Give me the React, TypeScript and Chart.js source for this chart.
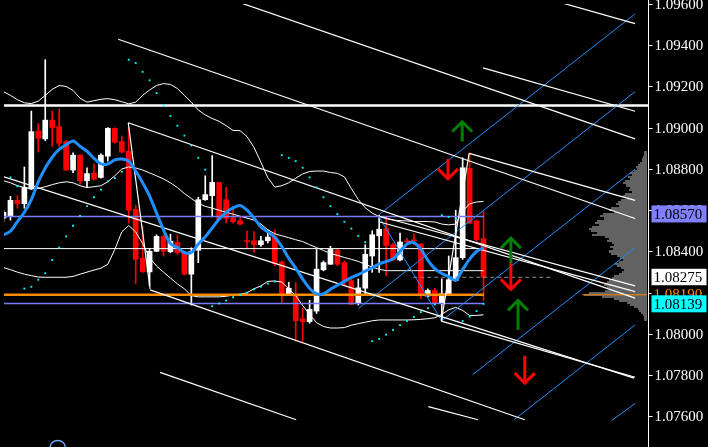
import React, { useEffect, useRef } from "react";
import { Chart, registerables } from "chart.js";

Chart.register(...registerables);

const CANVAS_W = 708;
const CANVAS_H = 447;

// ---- candles (bar index 0..69) ----
const opens = [
  1.08562, 1.08571, 1.08648, 1.08632, 1.08703, 1.08984, 1.08946, 1.09037, 1.09005, 1.08933,
  1.08795, 1.08867, 1.08743, 1.0878, 1.08759, 1.08862, 1.08997, 1.08933, 1.08886, 1.08605,
  1.08367, 1.08301, 1.08401, 1.08473, 1.08399, 1.08444, 1.08394, 1.0829, 1.08406, 1.08651,
  1.08671, 1.08735, 1.08651, 1.08563, 1.08549, 1.08452, 1.08452, 1.08433, 1.08452, 1.08473,
  1.08349, 1.0819, 1.0819, 1.08073, 1.0806, 1.08111, 1.08311, 1.08338, 1.08406, 1.08346,
  1.08259, 1.08151, 1.08222, 1.08378, 1.08476, 1.08511, 1.08433, 1.08359, 1.08452, 1.08457,
  1.08437, 1.08184, 1.08211, 1.08148, 1.08192, 1.08259, 1.0837, 1.08803, 1.08549, 1.08462,
];
const highs = [
  1.086, 1.08667, 1.08671, 1.0881, 1.09081, 1.0902, 1.0933, 1.09081, 1.09092, 1.08938,
  1.08878, 1.0887, 1.08806, 1.08825, 1.08873, 1.09001, 1.09, 1.0896, 1.09, 1.08624,
  1.0852, 1.0841, 1.08481, 1.08481, 1.08484, 1.08481, 1.08401, 1.08418, 1.08663, 1.08767,
  1.08865, 1.08735, 1.08711, 1.08608, 1.08568, 1.085, 1.08497, 1.08473, 1.08505, 1.08505,
  1.08354, 1.08251, 1.08248, 1.08124, 1.08163, 1.0841, 1.08354, 1.08425, 1.0841, 1.08354,
  1.08275, 1.08267, 1.08433, 1.08501, 1.08576, 1.08568, 1.08441, 1.08489, 1.08465, 1.08486,
  1.08437, 1.08219, 1.08222, 1.08267, 1.08378, 1.086, 1.08854, 1.08878, 1.08549, 1.08595,
];
const lows = [
  1.08543, 1.08552, 1.0861, 1.0861, 1.08701, 1.08882, 1.08937, 1.0891, 1.0891, 1.08793,
  1.08782, 1.08727, 1.08711, 1.08746, 1.08756, 1.08838, 1.08925, 1.08878, 1.08537, 1.08243,
  1.08299, 1.08235, 1.08399, 1.08378, 1.08394, 1.08386, 1.08286, 1.0814, 1.08346, 1.08648,
  1.08568, 1.08552, 1.08537, 1.08537, 1.08529, 1.08418, 1.08397, 1.08425, 1.08441, 1.0833,
  1.08148, 1.08187, 1.07965, 1.07965, 1.08052, 1.081, 1.08306, 1.08338, 1.0833, 1.08235,
  1.08144, 1.0814, 1.08187, 1.08299, 1.08299, 1.08282, 1.08354, 1.08354, 1.08433, 1.08433,
  1.08171, 1.0818, 1.08148, 1.0806, 1.08187, 1.08259, 1.08362, 1.08537, 1.08449, 1.08163,
];
const closes = [
  1.0859, 1.08648, 1.08632, 1.08711, 1.08981, 1.08949, 1.09037, 1.09001, 1.08925, 1.08795,
  1.08867, 1.08743, 1.08778, 1.08751, 1.08867, 1.08997, 1.0893, 1.08882, 1.086, 1.08362,
  1.08301, 1.08401, 1.08473, 1.08401, 1.08449, 1.08394, 1.0829, 1.08399, 1.08651, 1.08676,
  1.08735, 1.08556, 1.0856, 1.08544, 1.08533, 1.08448, 1.08433, 1.08452, 1.0847, 1.08341,
  1.0819, 1.08222, 1.08065, 1.0806, 1.08119, 1.08314, 1.08346, 1.0841, 1.08338, 1.08259,
  1.08144, 1.08224, 1.08386, 1.08481, 1.08508, 1.08429, 1.08362, 1.08446, 1.08446, 1.08452,
  1.08187, 1.08211, 1.08148, 1.08195, 1.08263, 1.0837, 1.08806, 1.08537, 1.08457, 1.08275,
];

// ---- indicators ----
const maLine = [
  1.08481, 1.08498, 1.08545, 1.0859, 1.08652, 1.08738, 1.08805, 1.08857, 1.08895, 1.08917,
  1.08936, 1.0891, 1.08886, 1.08852, 1.08825, 1.08824, 1.08844, 1.08848, 1.08838, 1.0879,
  1.08733, 1.08669, 1.08586, 1.08505, 1.08438, 1.08419, 1.08395, 1.08395, 1.08436, 1.08471,
  1.08514, 1.08557, 1.0859, 1.08611, 1.08623, 1.08601, 1.08562, 1.08519, 1.08495, 1.08469,
  1.08424, 1.08367, 1.08319, 1.08267, 1.08221, 1.08195, 1.08195, 1.08217, 1.08236, 1.08255,
  1.08274, 1.08288, 1.08305, 1.08321, 1.0834, 1.08351, 1.08364, 1.084, 1.08436, 1.08443,
  1.0841, 1.08357, 1.08317, 1.08293, 1.08278, 1.0826, 1.08312, 1.08363, 1.084, 1.08419,
];
const bbUpper = [
  1.09175, 1.09157, 1.09136, 1.09121, 1.09117, 1.09129, 1.09157, 1.09186, 1.09205, 1.092,
  1.09181, 1.09143, 1.09124, 1.09131, 1.09138, 1.09141, 1.09136, 1.09126, 1.09116, 1.09124,
  1.09157, 1.09183, 1.09205, 1.09214, 1.0921, 1.0919, 1.09157, 1.09124, 1.09086, 1.09062,
  1.09045, 1.09031, 1.0901, 1.08987, 1.08986, 1.08957, 1.08905, 1.08833, 1.08757, 1.08712,
  1.08719, 1.08733, 1.08755, 1.08776, 1.08788, 1.0879, 1.0879, 1.08783, 1.08779, 1.08762,
  1.08705, 1.08652, 1.08612, 1.08586, 1.08569, 1.0856, 1.08552, 1.0855, 1.08548, 1.08545,
  1.08545, 1.08545, 1.08543, 1.08533, 1.08529, 1.08533, 1.08595, 1.08631, 1.0864, 1.08643,
];
const bbMiddle = [
  1.08743, 1.08733, 1.08719, 1.0871, 1.08705, 1.08705, 1.08714, 1.08724, 1.08733, 1.08738,
  1.08733, 1.08719, 1.0871, 1.08714, 1.08719, 1.08738, 1.08767, 1.088, 1.0881, 1.08805,
  1.08795, 1.08781, 1.08767, 1.08752, 1.08733, 1.0871, 1.08681, 1.08657, 1.08633, 1.08619,
  1.0861, 1.086, 1.0859, 1.08581, 1.08571, 1.08562, 1.08552, 1.08533, 1.08505, 1.08486,
  1.08476, 1.08467, 1.08457, 1.08448, 1.08433, 1.08419, 1.08405, 1.0839, 1.08381, 1.08371,
  1.08362, 1.08352, 1.08338, 1.08324, 1.08314, 1.08307, 1.08307, 1.08307, 1.08307, 1.08307,
  1.08307, 1.08307, 1.08307, 1.08307, 1.08307, 1.08307, 1.08307, 1.08307, 1.08307, 1.08307,
];
const bbLower = [
  1.08322, 1.08312, 1.083, 1.0829, 1.08283, 1.08276, 1.08275, 1.08275, 1.08275, 1.08275,
  1.08279, 1.0829, 1.083, 1.0831, 1.08319, 1.08338, 1.0841, 1.08495, 1.08526, 1.08495,
  1.08438, 1.08371, 1.08329, 1.083, 1.08271, 1.08243, 1.08219, 1.08186, 1.0818, 1.0818,
  1.0818, 1.0818, 1.08183, 1.08188, 1.08193, 1.082, 1.08219, 1.08233, 1.08255, 1.08257,
  1.08252, 1.08219, 1.08186, 1.08138, 1.08095, 1.08055, 1.08036, 1.08029, 1.08029, 1.08031,
  1.08043, 1.0805, 1.08057, 1.08064, 1.08068, 1.08068, 1.08068, 1.08068, 1.08068, 1.08069,
  1.08071, 1.08074, 1.08079, 1.08095, 1.08117, 1.08129, 1.08114, 1.0809, 1.0809, 1.08093,
];
const sarStartBar = 1;
const sarValues = [
  1.08759, 1.08716, 1.0822, 1.08229, 1.08263, 1.08294, 1.08359, 1.08419, 1.08473,
  1.08525, 1.08573, 1.0862, 1.08663, 1.087, 1.0874, 1.08756, 1.08787, 1.0933, 1.09314,
  1.09271, 1.0923, 1.09168, 1.09111, 1.09057, 1.0901, 1.08962, 1.08914, 1.08854, 1.08797,
  1.08135, 1.08148, 1.08162, 1.08178, 1.0819, 1.082, 1.08216, 1.0823, 1.08244, 1.08254,
  1.08867, 1.08854, 1.08838, 1.08806, 1.08759, 1.08711, 1.08663, 1.0862, 1.08581, 1.08544,
  1.08511, 1.08476, 1.08445, 1.07965, 1.07976, 1.07997, 1.08019, 1.08043, 1.08062, 1.08083,
  1.08106, 1.08125, 1.08143, 1.08576, 1.08568, 1.08557, 1.08063, 1.08084, 1.08111, 1.08146,
];

// ---- axis ----
const yTicks = [1.076, 1.078, 1.08, 1.082, 1.084, 1.086, 1.088, 1.09, 1.092, 1.094, 1.096];
const priceMin = 1.074714;
const priceMax = 1.096;
const barMin = 0.0714;
const barMax = 92.643;

// ---- horizontal objects ----
const resistancePrice = 1.09108;
const upperZonePrice = 1.0857;
const midLevelPrice = 1.08414;
const orangeLevelPrice = 1.0819;
const lowerZonePrice = 1.08148;
const lastPrice = 1.08275;
const bidPrice = 1.08139;
const levelsEndBar = 69.07;
const lastPriceLineBars = [58.9, 78.6];
const pocBars = [83.2, 92.45];

// ---- trend lines: [bar1, price1, bar2, price2] ----
const whiteTrendLines = [
  [30.0, 1.09653, 90.79, 1.08946],
  [16.5, 1.09429, 90.79, 1.0856],
  [78.0, 1.09627, 90.79, 1.09505],
  [68.93, 1.0929, 90.79, 1.0908],
  [66.93, 1.08876, 90.79, 1.08648],
  [17.93, 1.09024, 90.79, 1.08174],
  [17.93, 1.09024, 21.07, 1.08219],
  [21.07, 1.08214, 74.93, 1.07584],
  [22.5, 1.07814, 42.07, 1.07584],
  [61.07, 1.07648, 68.21, 1.07584],
  [0.07, 1.08762, 90.64, 1.07786],
  [54.07, 1.08571, 90.79, 1.08233],
  [54.07, 1.08543, 90.79, 1.08205],
  [62.93, 1.08062, 90.79, 1.0779],
  [62.93, 1.08062, 66.93, 1.08876],
];
const blueTrendLines = [
  [53.93, 1.08571, 62.93, 1.08067],
  [54.07, 1.08581, 90.79, 1.09552],
  [51.03, 1.08124, 90.79, 1.09175],
  [62.93, 1.08063, 90.79, 1.08799],
  [67.46, 1.07803, 90.79, 1.08418],
  [73.4, 1.07584, 90.79, 1.08044],
  [87.46, 1.07581, 90.79, 1.07663],
];

// ---- arrows: [bar, tipPrice, tailPrice] ----
const upArrows = [
  [65.93, 1.09029, 1.08933],
  [72.93, 1.08465, 1.08343],
  [73.96, 1.08163, 1.0802],
];
const downArrows = [
  [63.89, 1.08752, 1.08848],
  [72.93, 1.08216, 1.08343],
  [74.93, 1.07762, 1.07894],
];

// ---- ellipse object near bottom-left: [bar, price, radiusBars, radiusPrice] ----
const ellipseObject = [7.79, 1.07448, 1.1, 0.00036];

// ---- volume profile (top price, step, volumes) ----
const profileTop = 1.0888;
const profileStep = 0.0001;
const profileVolumes = [
  3, 3, 4, 5, 5, 7, 9, 11, 10, 13, 17, 15, 19, 17, 22, 24, 21, 17, 18, 15,
  22, 24, 20, 26, 29, 31, 28, 36, 38, 33, 44, 47, 43, 50, 52, 48, 55, 58, 56, 50,
  55, 42, 38, 40, 35, 33, 37, 34, 38, 36, 30, 27, 24, 28, 32, 30, 26, 23, 25, 28,
  33, 35, 38, 40, 43, 40, 38, 42, 58, 63, 45, 33, 28, 20, 17, 13, 9, 8, 6, 4, 3, 3,
];
const profileRightBar = 92.45;
const profileBarsPerUnit = 1 / 7;

const WHITE = "#ffffff";
const RED = "#ff0000";
const BLUE = "#1e90ff";

function seg(l: number[], color: string, width: number, order: number, dash?: number[]) {
  return {
    type: "line" as const,
    data: [
      { x: l[0], y: l[1] },
      { x: l[2], y: l[3] },
    ],
    borderColor: color,
    borderWidth: width,
    borderDash: dash || [],
    pointRadius: 0,
    tension: 0,
    order,
  };
}

const mtPlugin = {
  id: "mtPlugin",
  beforeDraw(chart: any) {
    const { ctx, width, height } = chart;
    ctx.save();
    ctx.fillStyle = "#000000";
    ctx.fillRect(0, 0, width, height);
    ctx.restore();
  },
  beforeDatasetsDraw(chart: any) {
    const { ctx } = chart;
    const xs = chart.scales.x;
    const ys = chart.scales.y;
    const right = Math.round(xs.getPixelForValue(profileRightBar));
    ctx.save();
    ctx.fillStyle = "#626262";
    profileVolumes.forEach((v, i) => {
      const p = profileTop - i * profileStep;
      const yTop = Math.round(ys.getPixelForValue(p + profileStep / 2));
      const yBot = Math.round(ys.getPixelForValue(p - profileStep / 2));
      const left = Math.round(xs.getPixelForValue(profileRightBar - v * profileBarsPerUnit));
      ctx.fillRect(left, yTop, right - left, yBot - yTop);
    });
    ctx.restore();
  },
  afterDatasetsDraw(chart: any) {
    const { ctx } = chart;
    const xs = chart.scales.x;
    const ys = chart.scales.y;
    const drawArrow = (a: number[], color: string) => {
      const x = xs.getPixelForValue(a[0]);
      const tip = ys.getPixelForValue(a[1]);
      const tail = ys.getPixelForValue(a[2]);
      const dir = tail > tip ? 1 : -1;
      ctx.save();
      ctx.strokeStyle = color;
      ctx.lineWidth = 3;
      ctx.beginPath();
      ctx.moveTo(x, tail);
      ctx.lineTo(x, tip + dir);
      ctx.stroke();
      ctx.beginPath();
      ctx.moveTo(x - 10, tip + dir * 10);
      ctx.lineTo(x, tip);
      ctx.lineTo(x + 10, tip + dir * 10);
      ctx.stroke();
      ctx.restore();
    };
    upArrows.forEach((a) => drawArrow(a, "#008000"));
    downArrows.forEach((a) => drawArrow(a, "#ff0000"));

    // ellipse object
    const cx = xs.getPixelForValue(ellipseObject[0]);
    const cy = ys.getPixelForValue(ellipseObject[1]);
    const rx = xs.getPixelForValue(ellipseObject[0] + ellipseObject[2]) - cx;
    const ry = cy - ys.getPixelForValue(ellipseObject[1] + ellipseObject[3]);
    ctx.save();
    ctx.strokeStyle = "#64a8ff";
    ctx.lineWidth = 1.5;
    ctx.beginPath();
    ctx.ellipse(cx, cy, rx, ry, 0, 0, Math.PI * 2);
    ctx.stroke();
    ctx.restore();
  },
  afterDraw(chart: any) {
    const { ctx, chartArea } = chart;
    const ys = chart.scales.y;
    const axisX = chartArea.right + 0.5;
    ctx.save();
    ctx.strokeStyle = "#ffffff";
    ctx.lineWidth = 1;
    ctx.beginPath();
    ctx.moveTo(axisX, 0);
    ctx.lineTo(axisX, CANVAS_H);
    ctx.stroke();
    ctx.font = '15px "Liberation Serif"';
    ctx.textBaseline = "middle";
    ctx.textAlign = "left";
    yTicks.forEach((t) => {
      const y = Math.round(ys.getPixelForValue(t)) + 0.5;
      ctx.beginPath();
      ctx.moveTo(axisX, y);
      ctx.lineTo(axisX + 4, y);
      ctx.stroke();
      ctx.fillStyle = "#ffffff";
      ctx.fillText(t.toFixed(5), axisX + 6, y + 1);
    });
    const tag = (price: number, bg: string | null, fg: string, dy: number) => {
      const y = ys.getPixelForValue(price) + dy;
      if (bg) {
        ctx.fillStyle = bg;
        ctx.fillRect(axisX + 3, y - 8.5, 55, 17);
      }
      ctx.fillStyle = fg;
      ctx.fillText(price.toFixed(5), axisX + 5, y + 1);
    };
    tag(upperZonePrice, "#8080ff", "#000000", -2.5);
    tag(lastPrice, "#ffffff", "#000000", 0);
    tag(orangeLevelPrice, "#000000", "#ff8c00", -1);
    tag(bidPrice, "#00ffff", "#000000", -1.5);
    ctx.restore();
  },
};

export default function App() {
  const canvasRef = useRef<HTMLCanvasElement | null>(null);

  useEffect(() => {
    const canvas = canvasRef.current;
    if (!canvas) return;
    const bull = closes.map((c, i) => c >= opens[i]);
    const colors = bull.map((b) => (b ? WHITE : RED));
    const lineData = (arr: number[], start = 0) => arr.map((v, i) => ({ x: i + start, y: v }));

    const datasets: any[] = [
      {
        type: "bar",
        data: opens.map((_, i) => ({ x: i, y: [lows[i], highs[i]] })),
        backgroundColor: colors,
        borderWidth: 0,
        barThickness: 1,
        grouped: false,
        order: 20,
      },
      {
        type: "bar",
        data: opens.map((o, i) => ({ x: i, y: [o, closes[i]] })),
        backgroundColor: colors,
        borderWidth: 0,
        barThickness: 5,
        minBarLength: 1,
        grouped: false,
        order: 19,
      },
      { type: "line", data: lineData(bbUpper), borderColor: WHITE, borderWidth: 1, pointRadius: 0, order: 15 },
      { type: "line", data: lineData(bbMiddle), borderColor: WHITE, borderWidth: 1, pointRadius: 0, order: 15 },
      { type: "line", data: lineData(bbLower), borderColor: WHITE, borderWidth: 1, pointRadius: 0, order: 15 },
      seg([0, midLevelPrice, levelsEndBar, midLevelPrice], WHITE, 1, 14),
      seg([0, upperZonePrice, levelsEndBar, upperZonePrice], "#7b7bff", 1.5, 14),
      seg([0, lowerZonePrice, levelsEndBar, lowerZonePrice], "#7b7bff", 1.5, 14),
      seg([0, orangeLevelPrice, levelsEndBar, orangeLevelPrice], "#ff8c00", 2.5, 14),
      seg([pocBars[0], orangeLevelPrice, pocBars[1], orangeLevelPrice], "#ff8c00", 1, 14),
      seg([lastPriceLineBars[0], lastPrice, lastPriceLineBars[1], lastPrice], "#909090", 1, 14, [4, 3]),
      seg([barMin, resistancePrice, barMax, resistancePrice], WHITE, 2.5, 14),
      ...whiteTrendLines.map((l) => seg(l, WHITE, 1.2, 13)),
      ...blueTrendLines.map((l) => seg(l, BLUE, 1, 13)),
      {
        type: "line",
        data: lineData(sarValues, sarStartBar),
        showLine: false,
        pointStyle: "rect",
        pointRadius: 1.3,
        pointBackgroundColor: "#00ffff",
        pointBorderWidth: 0,
        order: 11,
      },
      {
        type: "line",
        data: lineData(maLine),
        borderColor: BLUE,
        borderWidth: 3,
        pointRadius: 0,
        tension: 0.3,
        order: 10,
      },
    ];

    const chart = new Chart(canvas, {
      type: "bar",
      data: { datasets },
      options: {
        animation: false,
        responsive: false,
        devicePixelRatio: 1,
        events: [],
        layout: { padding: { left: 0, right: CANVAS_W - 648, top: 0, bottom: 0 } },
        plugins: { legend: { display: false }, tooltip: { enabled: false } },
        scales: {
          x: { type: "linear", display: false, min: barMin, max: barMax, offset: false },
          y: { type: "linear", display: false, min: priceMin, max: priceMax },
        },
      } as any,
      plugins: [mtPlugin],
    });
    return () => chart.destroy();
  }, []);

  return (
    <div style={{ position: "absolute", left: 0, top: 0, width: CANVAS_W, height: CANVAS_H, background: "#000", overflow: "hidden" }}>
      <canvas ref={canvasRef} width={CANVAS_W} height={CANVAS_H} style={{ display: "block" }} />
    </div>
  );
}
